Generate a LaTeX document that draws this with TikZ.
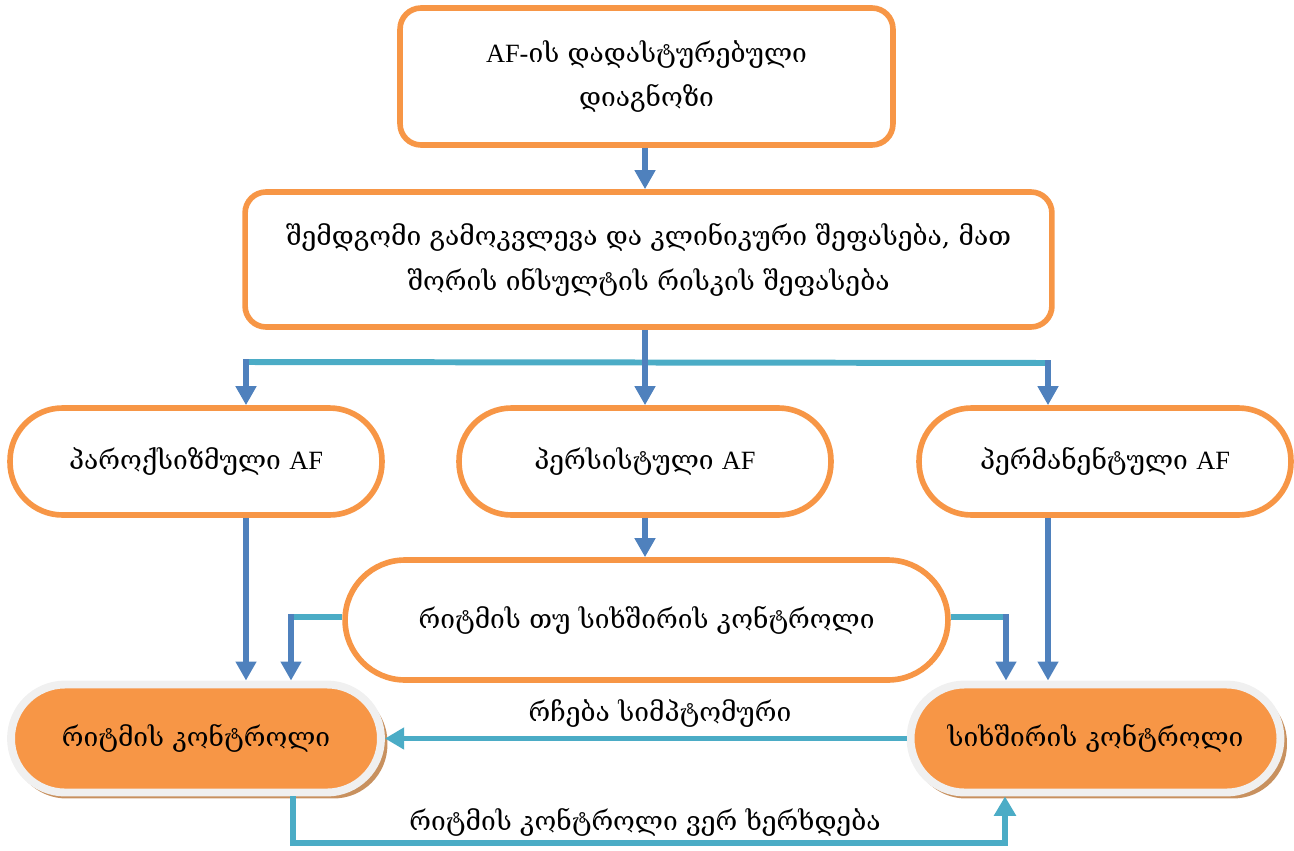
\documentclass[tikz,border=0pt]{standalone}
\usepackage{fontspec}
\setmainfont{DejaVu Serif}
\newfontfamily\lat{Liberation Serif}
\usetikzlibrary{arrows.meta}
\definecolor{frameor}{HTML}{F79646}
\definecolor{arrowblue}{HTML}{4F81BD}
\definecolor{linkteal}{HTML}{4BACC6}
\definecolor{rimgray}{HTML}{F0F0F0}
\definecolor{shadebrown}{HTML}{C8915F}
\tikzset{
  px/.style={x=0.02cm,y=-0.02cm},
  txt/.style={font=\fontsize{15}{25.5}\selectfont, align=center},
  boxnode/.style={txt, draw=frameor, line width=3.2pt, fill=white, rounded corners=0.42cm, inner sep=0pt},
  pillnode/.style={txt, draw=frameor, line width=3.2pt, fill=white, rounded corners=1.05cm, inner sep=0pt,
    minimum width=7.44cm, minimum height=2.14cm},
  solidpill/.style={txt, draw=rimgray, line width=4.5pt, fill=frameor, rounded corners=1.08cm, inner sep=0pt,
    minimum width=7.4cm, minimum height=2.16cm},
  shadowpill/.style={draw=none, fill=shadebrown, rounded corners=1.08cm, minimum width=7.5cm, minimum height=2.2cm},
  bluearrow/.style={draw=arrowblue, line width=3.4pt, -{Triangle[length=10.8pt,width=11.3pt]}},
  tealline/.style={draw=linkteal, line width=3.4pt},
  tealarrow/.style={draw=linkteal, line width=3.4pt, -{Triangle[length=11pt,width=12pt]}},
  lbl/.style={txt, inner sep=1pt}
}
\begin{document}
\begin{tikzpicture}[px]
\useasboundingbox (0,0) rectangle (1294,851);

% diagnosis and assessment
\node[boxnode, minimum width=9.86cm, minimum height=2.74cm] (diag) at (646.5,76.5)
  {{\lat AF-}ის დადასტურებული\\დიაგნოზი};
\node[boxnode, minimum width=16.14cm, minimum height=2.7cm] (eval) at (648.5,259.5)
  {შემდგომი გამოკვლევა და კლინიკური შეფასება, მათ\\შორის ინსულტის რისკის შეფასება};

% AF types
\node[pillnode] (parox) at (196,461.5) {პაროქსიზმული {\lat AF}};
\node[pillnode] (pers) at (645,461.5) {პერსისტული {\lat AF}};
\node[pillnode] (perm) at (1105,461.5) {პერმანენტული {\lat AF}};

% rate or rhythm decision
\node[txt, draw=frameor, line width=3.2pt, fill=white, rounded corners=1.2cm, inner sep=0pt,
  minimum width=12.06cm, minimum height=2.4cm] (choice) at (646.5,620) {რიტმის თუ სიხშირის კონტროლი};

% strategies
\node[shadowpill] (rkshadow) at (200,743.5) {};
\node[shadowpill] (skshadow) at (1099.5,743.5) {};
\node[solidpill] (rk) at (196,738.5) {რიტმის კონტროლი};
\node[solidpill] (sk) at (1095.5,738.5) {სიხშირის კონტროლი};

% branch points
\coordinate (hl) at (246,362);
\coordinate (hr) at (1048,363);
\coordinate (ml) at (291,617);
\coordinate (mr) at (1006,617);
\coordinate (bl) at (293,843);
\coordinate (br) at (1005,843);

% connectors
\draw[bluearrow] (pers.north |- diag.south) -- (pers.north |- eval.north);
\draw[tealline] (hl) -- (hr);
\draw[bluearrow] (pers.north |- eval.south) -- (pers.north);
\draw[bluearrow] ([yshift=1.5pt]hl) -- (hl |- parox.north);
\draw[bluearrow] ([yshift=1.5pt]hr) -- (hr |- perm.north);
\draw[bluearrow] (pers.south) -- (pers.south |- choice.north);
\draw[bluearrow] (parox.south -| hl) -- (hl |- rk.north);
\draw[bluearrow] (perm.south -| hr) -- (hr |- sk.north);
\draw[tealline] (choice.west |- ml) -- ([xshift=-1.7pt]ml);
\draw[bluearrow] ([yshift=1.5pt]ml) -- (ml |- rk.north);
\draw[tealline] (choice.east |- mr) -- ([xshift=1.7pt]mr);
\draw[bluearrow] ([yshift=1.5pt]mr) -- (mr |- sk.north);
\draw[tealarrow] (sk.west) -- (rk.east);
\draw[tealarrow] (rk.south -| bl) -- (bl) -- (br) -- (br |- sk.south);

% connector labels
\node[lbl] (stays) at (660,714) {რჩება სიმპტომური};
\node[lbl] (fails) at (645,822) {რიტმის კონტროლი ვერ ხერხდება};
\end{tikzpicture}
\end{document}
